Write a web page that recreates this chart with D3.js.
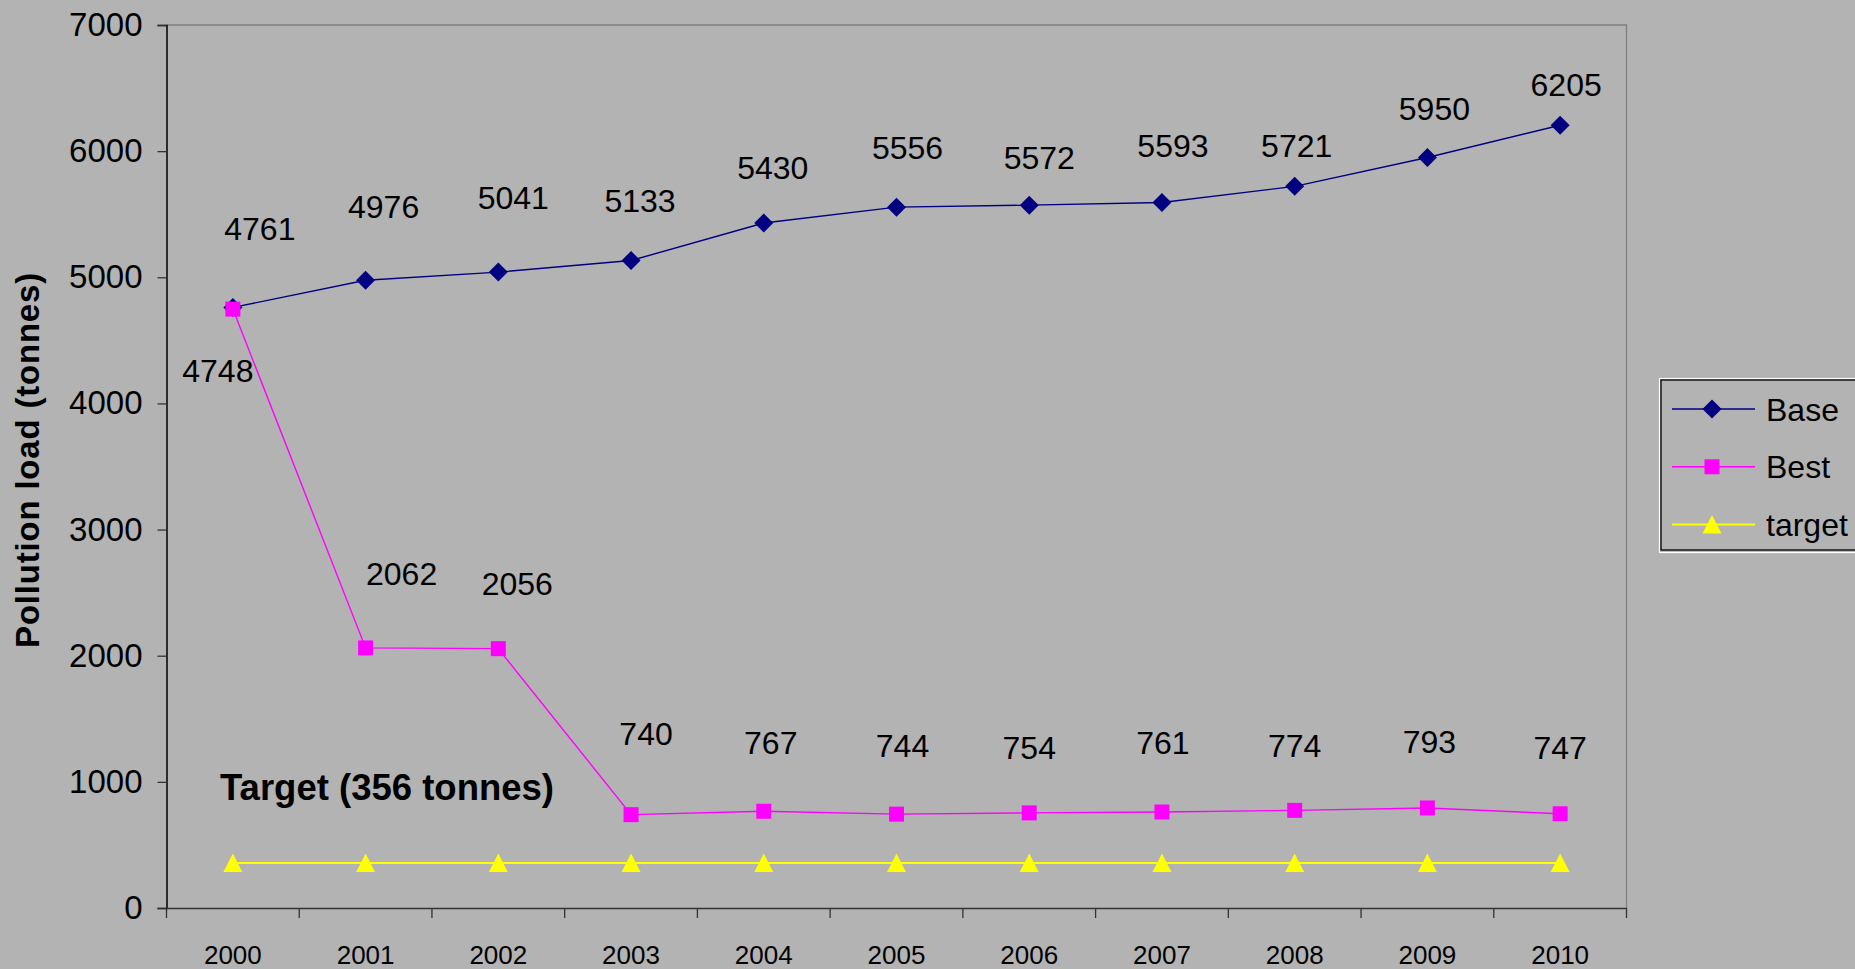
<!DOCTYPE html>
<html>
<head>
<meta charset="utf-8">
<script src="https://cdn.jsdelivr.net/npm/d3@7"></script>
<style>
    html, body { margin: 0; padding: 0; background: #b3b3b3; }
    svg { display: block; }
    text { font-family: "Liberation Sans", Arial, sans-serif; fill: #000; }
</style>
</head>
<body>
<div id="chart"></div>
<script>
const years = ['2000', '2001', '2002', '2003', '2004', '2005', '2006', '2007', '2008', '2009', '2010'];
const baseValues = [4761, 4976, 5041, 5133, 5430, 5556, 5572, 5593, 5721, 5950, 6205];
const bestValues = [4748, 2062, 2056, 740, 767, 744, 754, 761, 774, 793, 747];
const targetValues = [356, 356, 356, 356, 356, 356, 356, 356, 356, 356, 356];
const yTicks = [0, 1000, 2000, 3000, 4000, 5000, 6000, 7000];
const seriesNames = ['Base', 'Best', 'target'];

// label offsets (px) from each point, as dragged in the original
const baseLabelShift = [[27, -79], [18, -74], [15, -75], [9, -60], [9, -56], [11, -60],
    [10, -48], [11, -57], [2, -41], [7, -49], [6, -41]];
const bestLabelShift = [[-15, 61], [36, -74], [19, -65], [15, -81], [7, -69], [6, -69],
    [0, -65], [1, -70], [0, -65], [2, -66], [0, -66]];

const config = {
    width: 1855,
    height: 969,
    left: 166.5,
    right: 1626.5,
    top: 25,
    bottom: 908
};

const markers = {
    diamond: r => `M0,${-r}L${r},0L0,${r}L${-r},0Z`,
    square: r => `M${-r},${-r}H${r}V${r}H${-r}Z`,
    triangle: r => `M0,${-r}L${r},${r * 0.95}L${-r},${r * 0.95}Z`
};

const series = [
    { name: seriesNames[0], values: baseValues, color: '#000080', marker: markers.diamond(9.5), width: 1.4, shift: baseLabelShift },
    { name: seriesNames[1], values: bestValues, color: '#ff00ff', marker: markers.square(7.5), width: 1.4, shift: bestLabelShift },
    { name: seriesNames[2], values: targetValues, color: '#ffff00', marker: markers.triangle(9.5), width: 2, shift: null }
];

const svg = d3.select('#chart').append('svg')
    .attr('width', config.width)
    .attr('height', config.height);

const x = d3.scaleBand()
    .domain(years)
    .range([config.left, config.right]);
const y = d3.scaleLinear()
    .domain([0, 7000])
    .range([config.bottom, config.top]);
const cx = d => x(d) + x.bandwidth() / 2;

// plot frame: top and right in gray
svg.append('path')
    .attr('d', `M${config.left},${config.top}H${config.right}V${config.bottom}`)
    .attr('fill', 'none')
    .attr('stroke', '#808080')
    .attr('stroke-width', 1.3);

// y axis
const yAxis = svg.append('g')
    .attr('transform', `translate(${config.left},0)`)
    .call(d3.axisLeft(y).tickValues(yTicks).tickSize(9).tickPadding(15).tickFormat(d3.format('d')));
yAxis.select('.domain').attr('stroke', '#000').attr('stroke-width', 1.5);
yAxis.selectAll('.tick line').attr('stroke', '#333').attr('stroke-width', 1.3);
yAxis.selectAll('.tick text')
    .attr('font-size', 33)
    .attr('font-family', '"Liberation Sans", Arial, sans-serif')
    .attr('fill', '#000');

// x axis, ticks between categories
const xAxis = svg.append('g')
    .attr('transform', `translate(0,${config.bottom})`)
    .call(d3.axisBottom(x).tickSize(0).tickPadding(38));
xAxis.select('.domain').attr('stroke', '#333').attr('stroke-width', 1.5);
xAxis.selectAll('.tick text')
    .attr('font-size', 26)
    .attr('font-family', '"Liberation Sans", Arial, sans-serif')
    .attr('fill', '#000');
xAxis.selectAll('.sep')
    .data(d3.range(years.length + 1))
    .enter().append('line')
        .attr('class', 'sep')
        .attr('x1', i => config.left + i * x.bandwidth())
        .attr('x2', i => config.left + i * x.bandwidth())
        .attr('y1', 0)
        .attr('y2', 10)
        .attr('stroke', '#333')
        .attr('stroke-width', 1.3);

// y title
svg.append('text')
    .attr('transform', 'translate(39,460) rotate(-90)')
    .attr('text-anchor', 'middle')
    .attr('font-size', 33)
    .attr('font-weight', 'bold')
    .attr('letter-spacing', 0.8)
    .text('Pollution load (tonnes)');

const line = d3.line()
    .x((d, i) => cx(years[i]))
    .y(d => y(d));

// all the series
series.forEach(s => {
    const g = svg.append('g');
    g.append('path')
        .datum(s.values)
        .attr('d', line)
        .attr('fill', 'none')
        .attr('stroke', s.color)
        .attr('stroke-width', s.width);
    g.selectAll('.mark')
        .data(s.values)
        .enter().append('path')
            .attr('class', 'mark')
            .attr('d', s.marker)
            .attr('transform', (d, i) => `translate(${cx(years[i])},${y(d)})`)
            .attr('fill', s.color);
});

// data labels
series.filter(s => s.shift).forEach(s => {
    svg.append('g').selectAll('text')
        .data(s.values)
        .enter().append('text')
            .attr('x', (d, i) => cx(years[i]) + s.shift[i][0])
            .attr('y', (d, i) => y(d) + s.shift[i][1])
            .attr('dy', '0.36em')
            .attr('text-anchor', 'middle')
            .attr('font-size', 32)
            .text(d => d);
});

svg.append('text')
    .attr('x', 220)
    .attr('y', 800)
    .attr('font-size', 36.5)
    .attr('font-weight', 'bold')
    .text('Target (' + targetValues[0] + ' tonnes)');

// legend
const legend = svg.append('g');
legend.append('rect')
    .attr('x', 1659.5).attr('y', 378.5)
    .attr('width', 220).attr('height', 174)
    .attr('fill', 'none').attr('stroke', '#fff').attr('stroke-width', 1.2);
legend.append('rect')
    .attr('x', 1661).attr('y', 380)
    .attr('width', 220).attr('height', 170)
    .attr('fill', 'none').attr('stroke', '#000').attr('stroke-width', 1.3);

const legendY = d3.scalePoint()
    .domain(seriesNames)
    .range([409, 524.5]);

series.forEach(s => {
    const ly = legendY(s.name);
    legend.append('line')
        .attr('x1', 1672).attr('x2', 1755)
        .attr('y1', ly).attr('y2', ly)
        .attr('stroke', s.color)
        .attr('stroke-width', s.width);
    legend.append('path')
        .attr('d', s.marker)
        .attr('transform', `translate(1712,${ly})`)
        .attr('fill', s.color);
    legend.append('text')
        .attr('x', 1766)
        .attr('y', ly)
        .attr('dy', '0.36em')
        .attr('font-size', 32)
        .text(s.name);
});
</script>
</body>
</html>
